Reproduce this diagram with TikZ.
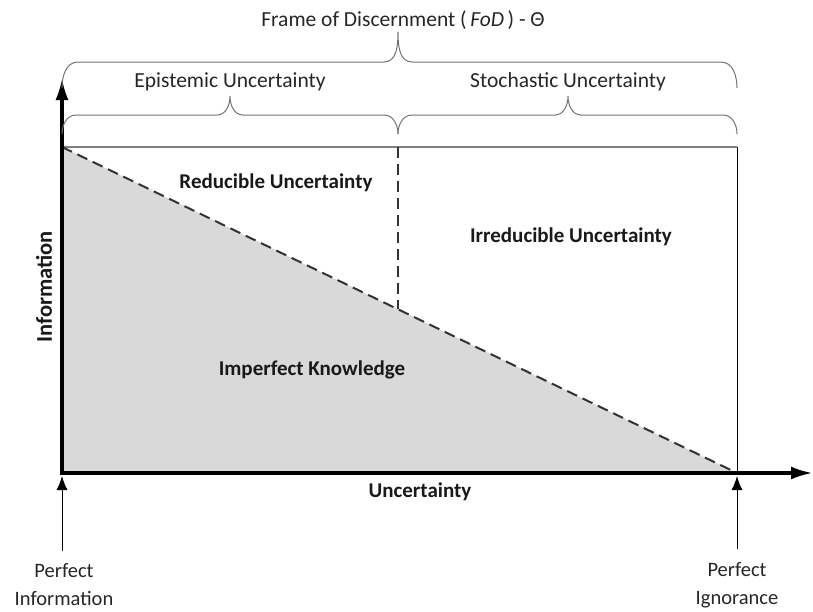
\documentclass[tikz,border=0pt]{standalone}
\usepackage{fontspec}
\setmainfont{Carlito}
\usetikzlibrary{arrows.meta}

\begin{document}
\begin{tikzpicture}[x=1pt, y=-1pt,
  label/.style={font=\fontsize{21.5}{28}\selectfont, text=black!85, inner sep=0pt, align=center},
  region/.style={font=\bfseries\fontsize{21}{24}\selectfont, text=black!90, inner sep=0pt},
  axis/.style={line width=3.5pt, -{Latex[length=22pt,width=13pt]}},
  brace/.style={draw=black!55, line width=1pt},
  divider/.style={black!80, line width=2pt, dash pattern=on 11pt off 6pt},
  pointer/.style={line width=1pt, -{Latex[length=14pt,width=11pt]}}
]
  \useasboundingbox (0,0) rectangle (813,611);

  % corners of the chart
  \coordinate (O)  at (62,473);
  \coordinate (TL) at (62,147);
  \coordinate (TR) at (737,147);
  \coordinate (BR) at (737,473);
  \coordinate (M)  at (398,147);
  \coordinate (Mb) at (398,309.3);

  \fill[black!15] (TL) -- (O) -- (BR) -- cycle;
  \draw[black!50, line width=2.5pt] (TL) -- (TR);
  \draw[line width=1pt] (TR) -- (BR);
  \draw[divider] (TL) -- (BR);
  \draw[divider] (M) -- (Mb);

  % axes
  \draw[axis] (62,475) -- (62,78);
  \draw[axis] (60.25,473) -- (813,473);

  % braces
  \draw[brace] (62,88) to[out=90,in=180] (78,62) -- (384,62) to[out=0,in=-90] (398,32)
    to[out=-90,in=180] (412,62) -- (721,62) to[out=0,in=90] (737,88);
  \draw[brace] (62,134) to[out=90,in=180] (76,115) -- (217,115) to[out=0,in=-90] (230,96)
    to[out=-90,in=180] (243,115) -- (384,115) to[out=0,in=90] (398,134);
  \draw[brace] (398,134) to[out=90,in=180] (412,115) -- (555,115) to[out=0,in=-90] (568,96)
    to[out=-90,in=180] (581,115) -- (723,115) to[out=0,in=90] (737,134);

  \node[label] (fod) at (403,20) {Frame of Discernment (\,\textit{FoD}\,) - Θ};
  \node[label] (epi) at (230,82) {Epistemic Uncertainty};
  \node[label] (sto) at (568,82) {Stochastic Uncertainty};

  \node[region] (red) at (276,183) {Reducible Uncertainty};
  \node[region] (irr) at (571,237) {Irreducible Uncertainty};
  \node[region] (imp) at (312,370) {Imperfect Knowledge};
  \node[region, rotate=90, font=\bfseries\fontsize{22.5}{24}\selectfont] (info) at (44,287) {Information};
  \node[region] (unc) at (420,492) {Uncertainty};

  \node[label, font=\fontsize{20.5}{28}\selectfont] (pinfo) at (64,585) {Perfect\\Information};
  \node[label, font=\fontsize{20.5}{28}\selectfont] (pign)  at (737,585) {Perfect\\Ignorance};

  \draw[pointer, shorten <=13pt, shorten >=3pt] (pinfo.north -| O) -- (O);
  \draw[pointer, shorten <=13pt, shorten >=3pt] (pign.north) -- (BR);
\end{tikzpicture}
\end{document}
